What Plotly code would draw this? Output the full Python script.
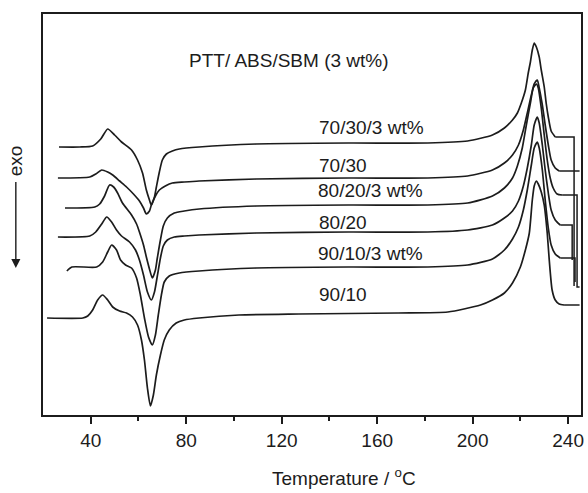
import plotly.graph_objects as go

# ---------------- data ----------------
# Temperature (°C) and heat flow (arbitrary units, exo down), curves offset vertically
t_70_30_3 = [26.7, 35.4, 40.8, 44.2, 47.1, 50.0, 52.9, 57.1, 59.6, 61.7, 63.3, 64.6, 65.4, 66.7, 67.5,
             68.75, 70.0, 71.7, 74.2, 77.1, 85.4, 109.2, 147.9, 181.25, 197.9, 208.3, 213.3, 216.7,
             218.75, 220.4, 222.1, 223.3, 224.2, 225.0, 225.8, 226.7, 227.9, 228.75, 230.0, 230.8,
             231.7, 232.9, 234.6]
hf_70_30_3 = [26.8, 26.8, 26.9, 27.6, 28.6, 28.0, 27.3, 26.5, 25.5, 24.2, 22.5, 21.5, 21.0, 21.8, 22.8,
              24.3, 25.5, 26.1, 26.4, 26.6, 26.8, 27.1, 27.2, 27.2, 27.4, 28.0, 28.7, 29.5,
              30.2, 31.2, 32.5, 34.2, 35.3, 36.5, 37.2, 36.8, 35.8, 34.5, 32.8, 31.2,
              29.8, 28.4, 27.8]
t_70_30_3_end = [234.6, 242.5, 242.5]
hf_70_30_3_end = [27.8, 27.8, 12.9]

t_70_30 = [26.25, 39.6, 42.1, 44.6, 47.1, 49.2, 52.1, 55.0, 57.9, 60.4, 62.1, 63.3, 64.6, 65.4, 67.1,
           68.75, 71.25, 74.2, 79.2, 85.4, 109.2, 147.9, 181.25, 197.9, 208.3, 213.3, 216.7, 219.2,
           221.25, 222.9, 224.6, 225.8, 227.1, 227.9, 229.2, 230.4, 231.7, 232.9, 234.6, 236.25]
hf_70_30 = [23.7, 23.8, 24.1, 24.5, 24.3, 24.0, 23.4, 22.8, 22.1, 21.4, 20.7, 20.1, 20.4, 21.0, 21.9,
            22.5, 22.9, 23.2, 23.3, 23.4, 23.6, 23.7, 23.7, 23.9, 24.5, 25.2, 26.0, 27.0,
            28.5, 30.2, 32.0, 33.1, 33.5, 32.7, 31.0, 29.0, 27.0, 25.5, 24.7, 24.4]
t_70_30_end = [236.25, 244.8]
hf_70_30_end = [24.4, 24.4]

t_80_20_3 = [29.2, 41.7, 43.75, 45.8, 47.9, 49.6, 51.25, 53.3, 57.1, 59.2, 60.4, 62.1, 63.3, 64.6, 65.8,
             67.1, 67.9, 69.2, 70.4, 72.1, 75.0, 79.2, 85.4, 109.2, 147.9, 181.25, 197.9, 208.3,
             213.3, 216.7, 218.75, 220.8, 222.5, 224.2, 225.4, 226.7, 227.5, 228.75, 230.0, 231.25,
             232.5, 233.75, 235.4, 237.5]
hf_80_20_3 = [20.7, 20.8, 21.1, 21.9, 23.0, 22.8, 22.2, 21.2, 20.0, 19.1, 18.3, 17.0, 15.8, 14.6, 13.7,
              14.5, 15.7, 17.5, 18.9, 19.7, 20.2, 20.4, 20.6, 20.9, 21.0, 21.0, 21.2, 21.9,
              22.7, 23.7, 24.9, 26.7, 29.0, 31.2, 32.7, 33.1, 32.7, 30.7, 28.0, 25.5,
              23.7, 22.7, 22.1, 22.0]
t_80_20_3_end = [237.5, 243.75, 243.75, 244.8]
hf_80_20_3_end = [22.0, 22.0, 12.8, 12.8]

t_80_20 = [26.25, 39.6, 42.1, 44.6, 46.7, 48.75, 50.8, 52.9, 56.25, 58.75, 60.4, 62.1, 63.75, 65.4, 66.7,
           67.9, 69.2, 70.4, 72.1, 75.0, 79.2, 85.4, 109.2, 147.9, 181.25, 197.9, 208.3, 213.3,
           216.7, 219.2, 221.25, 222.9, 224.6, 225.8, 227.1, 227.9, 229.2, 230.4, 231.7, 232.9,
           234.6, 236.7]
hf_80_20 = [17.8, 17.9, 18.3, 19.1, 19.8, 19.3, 18.5, 17.9, 17.3, 16.5, 15.5, 14.0, 12.3, 11.5, 12.3,
            13.9, 15.7, 16.9, 17.5, 17.8, 17.9, 18.0, 18.2, 18.3, 18.3, 18.5, 19.0, 19.7,
            20.4, 21.4, 22.9, 24.7, 27.0, 29.0, 29.8, 29.2, 27.0, 24.5, 22.2, 20.5,
            19.5, 19.0]
t_80_20_end = [236.7, 241.7, 241.7]
hf_80_20_end = [19.0, 19.0, 15.5]

t_90_10_3 = [30.0, 32.1, 42.5, 45.0, 47.1, 48.75, 50.8, 52.5, 54.6, 57.1, 59.2, 60.8, 62.5, 64.2, 65.8,
             67.1, 68.3, 69.6, 70.8, 72.9, 77.1, 85.4, 109.2, 147.9, 181.25, 197.9, 208.3, 213.3,
             216.7, 219.2, 221.25, 222.9, 224.6, 225.8, 227.1, 227.9, 229.2, 230.4, 231.7, 232.9,
             234.6, 236.7]
hf_90_10_3 = [14.4, 14.8, 14.8, 15.3, 16.3, 17.0, 16.5, 15.5, 15.0, 14.7, 13.7, 12.0, 9.7, 7.8, 7.0,
              8.0, 10.0, 12.0, 13.3, 13.9, 14.2, 14.4, 14.7, 14.8, 14.8, 15.0, 15.6, 16.5,
              17.6, 18.8, 20.5, 22.5, 25.0, 26.7, 27.3, 26.7, 24.5, 21.5, 18.7, 17.0,
              16.1, 15.7]
t_90_10_3_end = [236.7, 242.9, 242.9]
hf_90_10_3_end = [15.7, 15.7, 13.3]

t_90_10 = [21.7, 36.7, 38.75, 40.8, 42.9, 45.0, 47.1, 49.2, 52.1, 55.0, 57.5, 59.6, 61.25, 62.5, 63.75,
           65.0, 66.25, 67.5, 69.2, 70.8, 72.9, 75.8, 79.2, 85.4, 102.1, 127.1, 168.75, 189.6,
           203.3, 208.3, 213.3, 216.7, 220.0, 222.1, 223.75, 225.0, 225.8, 226.7, 227.5, 228.75,
           230.0, 231.25, 232.1, 233.3, 234.6, 236.25, 238.3]
hf_90_10 = [9.7, 9.7, 9.9, 10.5, 11.5, 12.0, 11.5, 10.8, 10.4, 10.2, 9.8, 9.0, 7.5, 5.5, 2.7,
            0.9, 2.0, 4.0, 6.0, 7.5, 8.5, 9.2, 9.5, 9.7, 10.0, 10.1, 10.2, 10.3,
            11.0, 11.5, 12.2, 13.2, 14.8, 16.5, 18.2, 21.5, 22.9, 23.4, 23.1, 22.3,
            21.0, 18.2, 15.5, 12.5, 11.5, 11.1, 11.0]
t_90_10_end = [238.3, 244.8]
hf_90_10_end = [11.0, 11.0]

curve_labels = ["70/30/3 wt%", "70/30", "80/20/3 wt%", "80/20", "90/10/3 wt%", "90/10"]
label_x = [134.6, 134.6, 134.2, 134.6, 134.2, 134.6]
label_y = [28.8, 25.0, 22.5, 19.3, 16.2, 12.1]

x_ticks = [40, 80, 120, 160, 200, 240]
x_minor = [60, 100, 140, 180, 220]

# ---------------- figure ----------------
FONT = "Liberation Sans, Arial, sans-serif"
INK = "#1c1c1c"
fig = go.Figure()

curves = [
    (t_70_30_3, hf_70_30_3, t_70_30_3_end, hf_70_30_3_end),
    (t_70_30, hf_70_30, t_70_30_end, hf_70_30_end),
    (t_80_20_3, hf_80_20_3, t_80_20_3_end, hf_80_20_3_end),
    (t_80_20, hf_80_20, t_80_20_end, hf_80_20_end),
    (t_90_10_3, hf_90_10_3, t_90_10_3_end, hf_90_10_3_end),
    (t_90_10, hf_90_10, t_90_10_end, hf_90_10_end),
]
for name, (tx, hy, te, he) in zip(curve_labels, curves):
    fig.add_trace(go.Scatter(x=tx, y=hy, mode="lines", name=name, showlegend=False,
                             line=dict(color=INK, width=1.7, shape="spline", smoothing=0.6)))
    fig.add_trace(go.Scatter(x=te, y=he, mode="lines", showlegend=False,
                             line=dict(color=INK, width=1.5)))

for txt, lx, ly in zip(curve_labels, label_x, label_y):
    fig.add_annotation(x=lx, y=ly, text=txt, showarrow=False, xanchor="left", yanchor="middle",
                       font=dict(family=FONT, size=19, color=INK))

fig.add_annotation(x=80.4, y=35.5, text="PTT/ ABS/SBM (3 wt%)", showarrow=False,
                   xanchor="left", yanchor="middle", font=dict(family=FONT, size=19, color=INK))

# x-axis title
fig.add_annotation(xref="paper", yref="paper", x=0.56, y=-0.155, text="Temperature / <sup>o</sup>C",
                   showarrow=False, xanchor="center", yanchor="middle",
                   font=dict(family=FONT, size=19, color=INK))

# exo label with arrow
fig.add_annotation(xref="paper", yref="paper", x=-0.0518, y=0.633, text="exo", textangle=-90,
                   showarrow=False, xanchor="center", yanchor="middle",
                   font=dict(family=FONT, size=19, color=INK))
fig.add_annotation(xref="paper", yref="paper", x=-0.0505, y=0.3666, text=" ", showarrow=True,
                   ax=0, ay=-88, arrowhead=2, arrowsize=1.3, arrowwidth=1.4, arrowcolor=INK,
                   font=dict(size=1))

fig.update_layout(
    width=588, height=493,
    margin=dict(l=43, r=4, t=14, b=78),
    paper_bgcolor="white", plot_bgcolor="white",
    font=dict(family=FONT, size=19, color=INK),
    xaxis=dict(range=[20, 245.4], tickvals=x_ticks, ticks="outside", ticklen=7, tickwidth=2,
               tickcolor=INK, showline=True, linecolor=INK, linewidth=2, mirror=True,
               showgrid=False, zeroline=False, tickfont=dict(family=FONT, size=19, color=INK),
               minor=dict(tickvals=x_minor, ticks="outside", ticklen=4, tickwidth=1.5, tickcolor=INK)),
    yaxis=dict(range=[0, 40.1], showticklabels=False, ticks="", showline=True, linecolor=INK,
               linewidth=2, mirror=True, showgrid=False, zeroline=False),
)

fig.write_html("out.html")
